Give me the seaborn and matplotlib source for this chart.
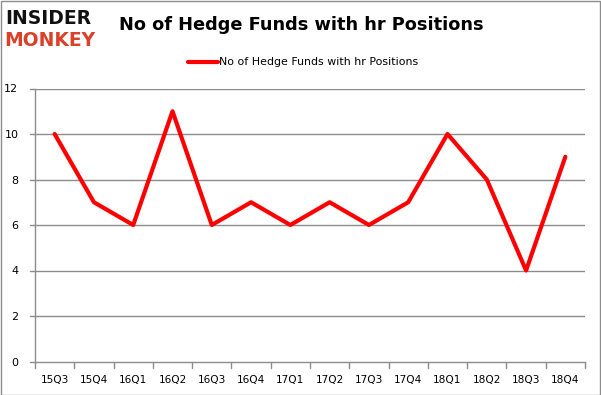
import matplotlib
matplotlib.use("Agg")
import pandas as pd
import seaborn as sns
import matplotlib.pyplot as plt
from matplotlib.patches import Rectangle

# Data
quarters = ["15Q3", "15Q4", "16Q1", "16Q2", "16Q3", "16Q4", "17Q1",
            "17Q2", "17Q3", "17Q4", "18Q1", "18Q2", "18Q3", "18Q4"]
funds = [10, 7, 6, 11, 6, 7, 6, 7, 6, 7, 10, 8, 4, 9]
series_name = "No of Hedge Funds with hr Positions"
y_ticks = [0, 2, 4, 6, 8, 10, 12]

df = pd.DataFrame({"quarter": quarters, "funds": funds})
df["pos"] = range(len(df))

sns.set_theme(style="white")
plt.rcParams["font.family"] = ["DejaVu Sans"]

W, H = 601, 395
fig = plt.figure(figsize=(W / 100, H / 100), dpi=100)
ax = fig.add_axes([35 / W, 1 - 361.5 / H, 550 / W, (361.5 - 88.5) / H])

sns.lineplot(data=df, x="pos", y="funds", color="#ff0000", linewidth=3,
             ax=ax, legend=False)

ax.set_xlim(-0.5, len(quarters) - 0.5)
ax.set_ylim(0, 12)
ax.set_yticks(y_ticks)
ax.set_yticklabels([str(v) for v in y_ticks], fontsize=8, color="#000000")
ax.set_xticks(range(len(quarters)))
ax.set_xticklabels(quarters, fontsize=7.6, color="#000000")
ax.tick_params(axis="x", length=0, pad=10)
ax.tick_params(axis="y", length=0, pad=12)
ax.set_xlabel("")
ax.set_ylabel("")

# gridlines and axis lines like the Excel original
for v in y_ticks[1:]:
    ax.axhline(v, color="#8c8c8c", linewidth=1, zorder=0)
for s in ["top", "right"]:
    ax.spines[s].set_visible(False)
for s in ["left", "bottom"]:
    ax.spines[s].set_color("#8c8c8c")
    ax.spines[s].set_linewidth(1)
# tick marks between categories (below) and left of y axis
for k in range(len(quarters) + 1):
    ax.plot([k - 0.5, k - 0.5], [0, -0.28], color="#8c8c8c", linewidth=1,
            clip_on=False)
for v in y_ticks:
    ax.plot([-0.5 - 0.13, -0.5], [v, v], color="#8c8c8c", linewidth=1,
            clip_on=False)

# title and legend
fig.text(301 / W, 1 - 25 / H, "No of Hedge Funds with hr Positions",
         fontsize=12.8, fontweight="bold", ha="center", va="center",
         color="#000000")
fig.lines.append(plt.Line2D([188 / W, 218 / W], [1 - 62 / H, 1 - 62 / H],
                            color="#ff0000", linewidth=3,
                            transform=fig.transFigure))
fig.text(219 / W, 1 - 62 / H, series_name, fontsize=7.9, ha="left",
         va="center", color="#000000")

# logo
fig.text(5 / W, 1 - 18 / H, "INSIDER", fontsize=13.5, fontweight="heavy",
         ha="left", va="center", color="#111111")
fig.text(4 / W, 1 - 40 / H, "MONKEY", fontsize=13.5, fontweight="heavy",
         ha="left", va="center", color="#d9412b")

# outer border
fig.patches.append(Rectangle((0.5 / W, 0.5 / H), (W - 1.5) / W, (H - 1.5) / H,
                             transform=fig.transFigure, fill=False,
                             edgecolor="#8c8c8c", linewidth=1))

fig.savefig("out.png", dpi=100)
